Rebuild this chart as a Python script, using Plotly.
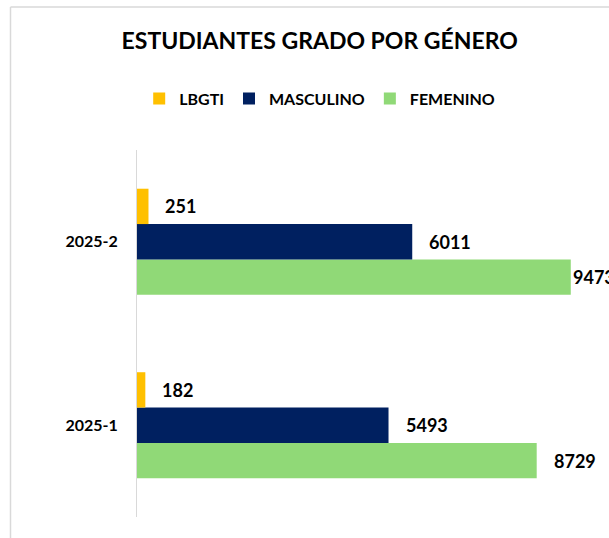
import plotly.graph_objects as go

# ---- data ----
CATEGORIES = ["2025-1", "2025-2"]
SERIES = ["LBGTI", "MASCULINO", "FEMENINO"]
LBGTI = [182, 251]
MASCULINO = [5493, 6011]
FEMENINO = [8729, 9473]
TITLE = "ESTUDIANTES GRADO POR GÉNERO"

VALUES = {"LBGTI": LBGTI, "MASCULINO": MASCULINO, "FEMENINO": FEMENINO}
COLORS = {"LBGTI": "#FFC000", "MASCULINO": "#002060", "FEMENINO": "#90D977"}

W, H = 609, 538
ML, MR, MT, MB = 137, 0, 150, 21
PW, PH = W - ML - MR, H - MT - MB
XMAX = 10308
BARGAP = 0.422
FONT = "Lato"

fig = go.Figure()
# horizontal grouped bars: first trace drawn lowest, so add in reverse order
for name in reversed(SERIES):
    fig.add_trace(go.Bar(
        y=CATEGORIES, x=VALUES[name], name=name, orientation="h",
        marker=dict(color=COLORS[name], line=dict(width=0)),
        hoverinfo="x+name",
    ))

# data labels
bar_px = PH / len(CATEGORIES) * (1 - BARGAP) / len(SERIES)
px_per_unit = PW / XMAX
annotations = []
for i, name in enumerate(SERIES):
    for cat, v in zip(CATEGORIES, VALUES[name]):
        label = str(v)
        est_w = len(label) * 0.58 * 18
        end_px = ML + v * px_per_unit
        shift = 15 if end_px + 15 + est_w <= W else 0
        annotations.append(dict(
            x=v, y=cat, xref="x", yref="y", text=label, showarrow=False,
            xanchor="left", yanchor="middle", xshift=shift,
            yshift=(1 - i) * bar_px,
            font=dict(family=FONT, size=18, color="#000000", weight="bold"),
        ))

cx = (319.7 - ML) / PW
fig.update_layout(
    width=W, height=H,
    margin=dict(l=ML, r=MR, t=MT, b=MB, autoexpand=False),
    paper_bgcolor="white", plot_bgcolor="white",
    barmode="group", bargap=BARGAP, bargroupgap=0,
    title=dict(text=TITLE, x=cx, xref="paper", xanchor="center",
               y=1 - 40.7 / H, yref="container", yanchor="middle",
               font=dict(family=FONT, size=23, color="#000000", weight="bold")),
    legend=dict(orientation="h", x=cx, xanchor="center",
                y=(H - MB - 98.5) / PH, yanchor="middle",
                traceorder="reversed", itemwidth=30,
                font=dict(family=FONT, size=16, color="#000000", weight="bold")),
    xaxis=dict(range=[0, XMAX], visible=False, showgrid=False, zeroline=False,
               fixedrange=True),
    yaxis=dict(type="category", showline=True, linecolor="#d9d9d9", linewidth=1,
               showgrid=False, zeroline=False, ticks="", automargin=False,
               ticklabelstandoff=15,
               tickfont=dict(family=FONT, size=16, color="#000000", weight="bold")),
    annotations=annotations,
    showlegend=True,
)

# chart-area border (left and top edges visible in the reference)
bx = (10.5 - ML) / PW
by = (H - MB - 7) / PH
fig.add_shape(type="line", xref="paper", yref="paper", x0=bx, x1=bx, y0=by, y1=-0.2,
              line=dict(color="#d9d9d9", width=1.5), layer="below")
fig.add_shape(type="line", xref="paper", yref="paper", x0=bx, x1=1.2, y0=by, y1=by,
              line=dict(color="#d9d9d9", width=1.5), layer="below")

fig.write_html(
    "out.html",
    config={"displayModeBar": False},
    post_script="document.body.style.margin='0';document.body.style.overflow='hidden';",
)
